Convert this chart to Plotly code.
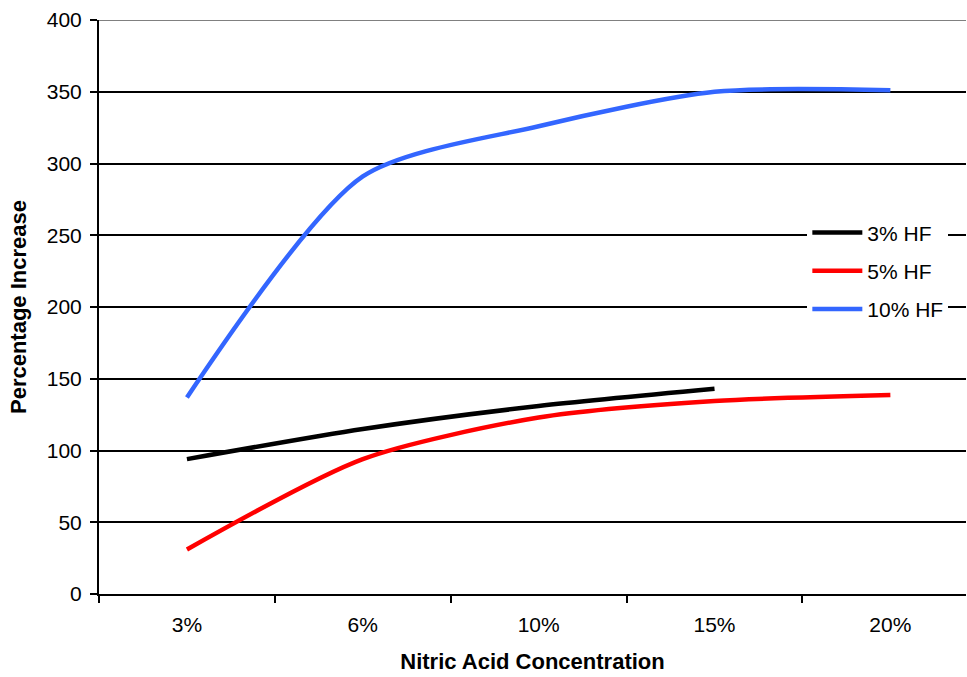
import plotly.graph_objects as go

categories = ["3%", "6%", "10%", "15%", "20%"]
hf3 = [94, 115, 131, 143, None]
hf5 = [31, 94, 123, 134.5, 138.7]
hf10 = [137, 291, 326, 350, 351]

series = [
    ("3% HF", hf3, "#000000"),
    ("5% HF", hf5, "#FF0000"),
    ("10% HF", hf10, "#3366FF"),
]

fig = go.Figure()
for name, vals, color in series:
    fig.add_trace(go.Scatter(
        x=categories, y=vals, name=name, mode="lines", legendgroup=name,
        line=dict(color=color, width=4.5, shape="spline", smoothing=0.75),
        connectgaps=False,
    ))

font_family = "Liberation Sans, Arial, sans-serif"
fig.update_layout(
    width=967, height=677,
    margin=dict(l=99, r=1, t=20, b=83),
    paper_bgcolor="white", plot_bgcolor="white",
    font=dict(family=font_family, size=21, color="black"),
    showlegend=True,
    legend=dict(
        x=0.817, y=0.665, xanchor="left", yanchor="top",
        bgcolor="white", font=dict(size=21),
        itemwidth=50, tracegroupgap=8,
    ),
    xaxis=dict(
        type="category", range=[-0.5, 4.43],
        showline=True, linecolor="black", linewidth=2,
        ticks="outside", tickson="boundaries", ticklen=7, tickwidth=2, tickcolor="black",
        showgrid=False, zeroline=False,
        tickfont=dict(size=21), ticklabelstandoff=11,
        title=dict(text="<b>Nitric Acid Concentration</b>", font=dict(size=22), standoff=18),
    ),
    yaxis=dict(
        range=[0, 400], dtick=50,
        showline=True, linecolor="black", linewidth=2,
        ticks="outside", ticklen=7, tickwidth=2, tickcolor="black",
        showgrid=True, gridcolor="black", gridwidth=1.5, zeroline=False,
        tickfont=dict(size=21), ticklabelstandoff=4,
        title=dict(text="<b>Percentage Increase</b>", font=dict(size=22), standoff=14),
    ),
)
fig.add_shape(type="line", xref="paper", yref="y", x0=0, x1=1, y0=400, y1=400,
              line=dict(color="#808080", width=2), layer="above")

fig.write_html("out.html")
